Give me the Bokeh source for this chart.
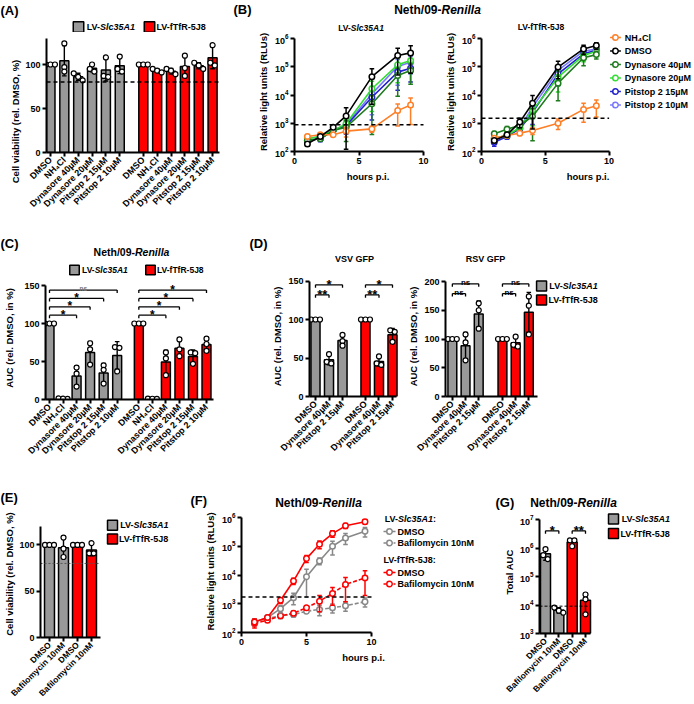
import math
import numpy as np
from bokeh.plotting import figure
from bokeh.models import Range1d, FixedTicker, Label
from bokeh.layouts import row, column
from bokeh.embed import file_html
from bokeh.resources import INLINE

S = 1.0
FONT = "Liberation Sans"
GRAY = "#999999"
RED = "#FF0000"

# ------------------------------------------------------------------ data
drug_labels = ["DMSO", "NH₄Cl", "Dynasore 40µM", "Dynasore 20µM", "Pitstop 2 15µM", "Pitstop 2 10µM"]
vsv_labels = ["DMSO", "Dynasore 40µM", "Pitstop 2 15µM"]
baf_labels = ["DMSO", "Bafilomycin 10nM"]

# (A) cell viability (rel. DMSO, %) - three replicates each
a_slc35a1 = [[100, 100, 100], [124, 97, 92], [90, 86, 82], [100, 95, 92], [108, 87, 86], [109, 95, 92]]
a_ftfr = [[100, 100, 100], [95, 93, 91], [95, 93, 89], [110, 96, 87], [102, 99, 95], [122, 102, 99]]
viability_cutoff = 80

# (B) Neth/09-Renilla kinetics (RLUs): mean and SD
b_hours = [1, 2, 3, 4, 6, 8, 9]
b1_nh4cl = [340, 390, 390, 525, 630, 2800, 4400]
b1_nh4cl_sd = [60, 50, 40, 200, 150, 2000, 3500]
b1_dmso = [186, 340, 720, 1820, 44700, 251000, 309000]
b1_dmso_sd = [30, 50, 120, 1700, 40000, 200000, 250000]
b1_dyn40 = [245, 282, 550, 724, 4900, 49000, 74000]
b1_dyn40_sd = [40, 40, 90, 500, 4500, 40000, 50000]
b1_dyn20 = [282, 339, 550, 955, 16600, 117000, 166000]
b1_dyn20_sd = [40, 50, 90, 400, 14000, 90000, 100000]
b1_pit15 = [245, 282, 550, 810, 8300, 64600, 89000]
b1_pit15_sd = [40, 60, 90, 400, 7000, 50000, 60000]
b1_pit10 = [282, 339, 575, 870, 11000, 102000, 145000]
b1_pit10_sd = [40, 50, 90, 400, 9000, 80000, 90000]
b1_cutoff = 880

b2_nh4cl = [295, 372, 447, 550, 1000, 3090, 4170]
b2_nh4cl_sd = [50, 40, 80, 150, 400, 2000, 2500]
b2_dmso = [245, 389, 1100, 5130, 97700, 427000, 562000]
b2_dmso_sd = [40, 60, 400, 4500, 60000, 150000, 150000]
b2_dyn40 = [427, 617, 832, 1740, 26300, 209000, 269000]
b2_dyn40_sd = [80, 150, 200, 1500, 20000, 100000, 80000]
b2_dyn20 = [295, 372, 692, 2820, 42700, 251000, 355000]
b2_dyn20_sd = [50, 60, 150, 2000, 30000, 100000, 100000]
b2_pit15 = [214, 339, 631, 2400, 56200, 288000, 380000]
b2_pit15_sd = [60, 60, 150, 1500, 35000, 100000, 100000]
b2_pit10 = [282, 372, 692, 3720, 74100, 355000, 427000]
b2_pit10_sd = [50, 60, 200, 2000, 40000, 100000, 100000]
b2_cutoff = 1500

# (C) AUC (rel. DMSO, in %)
c_slc35a1 = [[100, 100, 100], [1.5, 0.8, 1.2], [42, 34, 17], [74, 66, 46], [45, 39, 21], [69, 68, 37]]
c_ftfr = [[100, 100, 100], [1.2, 1.0, 0.9], [62, 54, 32], [79, 66, 57], [62, 61, 47], [80, 73, 64]]
c_sig_slc35a1 = [(2, "*", 111), (3, "*", 122), (4, "*", 133), (5, "ns", 144)]
c_sig_ftfr = [(2, "*", 111), (3, "*", 122), (4, "*", 133), (5, "*", 144)]

# (D) VSV GFP / RSV GFP AUC
d_vsv_slc35a1 = [[100, 100, 100], [55, 45, 43], [80, 72, 66]]
d_vsv_ftfr = [[100, 100, 100], [52, 43, 41], [86, 84, 71]]
d_rsv_slc35a1 = [[100, 100, 100], [108, 94, 63], [162, 150, 118]]
d_rsv_ftfr = [[100, 100, 100], [104, 90, 87], [174, 158, 108]]
d_vsv_sig = [(1, "**", 132), (2, "*", 145)]
d_rsv_sig = [(1, "ns", 179), (2, "ns", 196)]

# (E) cell viability with bafilomycin
e_slc35a1 = [[100, 100, 100], [108, 96, 87]]
e_ftfr = [[100, 100, 100], [102, 91, 91]]

# (F) kinetics with bafilomycin
f_hours = [1, 2, 3, 4, 5, 6, 7, 8, 9.5]
f_slc_dmso = [234, 331, 676, 1620, 8710, 30900, 100000, 195000, 331000]
f_slc_dmso_sd = [60, 50, 200, 700, 7000, 8000, 50000, 80000, 120000]
f_slc_baf = [234, 309, 380, 427, 550, 631, 724, 851, 1175]
f_slc_baf_sd = [60, 40, 80, 80, 80, 250, 250, 300, 400]
f_ftfr_dmso = [234, 331, 1320, 6170, 37200, 117000, 275000, 513000, 708000]
f_ftfr_dmso_sd = [60, 40, 300, 1500, 10000, 35000, 70000, 100000, 120000]
f_ftfr_baf = [204, 269, 380, 468, 724, 1230, 2290, 4680, 7940]
f_ftfr_baf_sd = [60, 40, 60, 80, 100, 700, 1400, 3500, 6000]
f_cutoff = 1700

# (G) total AUC
g_slc35a1 = [[910000, 560000, 410000], [8100, 6300, 5400]]
g_ftfr = [[1860000, 1860000, 1150000], [23400, 15800, 4700]]
g_cutoff = 9100
g_sig = [(0, 1, "*", 4.0e6), (2, 3, "**", 4.0e6)]

# ------------------------------------------------------------------ helpers
_W = {' ': 278, '(': 333, ')': 333, '*': 389, ',': 278, '-': 333, '.': 278, '/': 278, ':': 333,
      '%': 889, 'µ': 611, '₄': 556}
for _c in '0123456789':
    _W[_c] = 556
_W.update(dict(A=722, B=722, C=722, D=722, E=667, F=611, G=778, H=722, I=278, J=556, K=722, L=611,
               M=833, N=722, O=778, P=667, Q=778, R=722, S=667, T=611, U=722, V=667, W=944, X=667,
               Y=667, Z=611))
_W.update(dict(a=556, b=611, c=556, d=611, e=556, f=333, g=611, h=611, i=278, j=278, k=556, l=278,
               m=889, n=611, o=611, p=611, q=611, r=389, s=556, t=333, u=611, v=556, w=778, x=556,
               y=556, z=500))


def tw(text, size):
    return sum(_W.get(c, 556) for c in text) / 1000.0 * size


class Pan:
    def __init__(self, cell, frame, xm, ym, ylog=False):
        self.cell, self.frame, self.xm, self.ym, self.ylog = cell, frame, xm, ym, ylog

    def _l(self, v):
        return math.log10(v) if self.ylog else v

    def xv(self, px):
        (v0, p0), (v1, p1) = self.xm
        return v0 + (px - p0) * (v1 - v0) / (p1 - p0)

    def xpx(self, v):
        (v0, p0), (v1, p1) = self.xm
        return p0 + (v - v0) * (p1 - p0) / (v1 - v0)

    def yv(self, py):
        (v0, p0), (v1, p1) = self.ym
        a, b = self._l(v0), self._l(v1)
        r = a + (py - p0) * (b - a) / (p1 - p0)
        return 10 ** r if self.ylog else r

    def ypx(self, v):
        (v0, p0), (v1, p1) = self.ym
        a, b = self._l(v0), self._l(v1)
        return p0 + (self._l(v) - a) * (p1 - p0) / (b - a)

    def dx(self, px):
        return self.xv(self.xpx(0) + px) - self.xv(self.xpx(0))


def X(v):
    return int(round(v * S))


def make(pan, xticks, yticks, xbounds, ybounds, xlabels=None, ylabel=None, xlabel=None,
         tick_size=9, cat_size=9, lab_size=9.5, ylab_standoff=3, xlab_standoff=4):
    cx0, cy0, cx1, cy1 = pan.cell
    fx0, fy0, fx1, fy1 = pan.frame
    p = figure(width=X(cx1) - X(cx0), height=X(cy1) - X(cy0),
               x_range=Range1d(pan.xv(fx0), pan.xv(fx1)),
               y_range=Range1d(pan.yv(fy1), pan.yv(fy0)),
               y_axis_type="log" if pan.ylog else "linear",
               min_border_left=X(fx0) - X(cx0), min_border_right=X(cx1) - X(fx1),
               min_border_top=X(fy0) - X(cy0), min_border_bottom=X(cy1) - X(fy1),
               output_backend="svg", toolbar_location=None)
    p.outline_line_color = None
    p.xgrid.visible = False
    p.ygrid.visible = False
    p.border_fill_color = "white"
    p.background_fill_color = "white"
    p.xaxis.ticker = FixedTicker(ticks=xticks)
    p.yaxis.ticker = FixedTicker(ticks=yticks)
    p.xaxis.bounds = xbounds
    p.yaxis.bounds = ybounds
    for ax in p.axis:
        ax.axis_line_width = 2 * S
        ax.axis_line_color = "black"
        ax.major_tick_line_width = 2 * S
        ax.major_tick_line_color = "black"
        ax.major_tick_out = 4
        ax.major_tick_in = 0
        ax.minor_tick_line_color = None
        ax.major_label_text_font = FONT
        ax.major_label_text_font_style = "bold"
        ax.major_label_text_color = "black"
        ax.major_label_text_font_size = f"{tick_size * S:.2f}px"
        ax.major_label_standoff = 2
        ax.axis_label_text_font = FONT
        ax.axis_label_text_font_style = "bold"
        ax.axis_label_text_color = "black"
        ax.axis_label_text_font_size = f"{lab_size * S:.2f}px"
    p.yaxis.axis_label_standoff = ylab_standoff
    p.xaxis.axis_label_standoff = xlab_standoff
    if ylabel:
        p.yaxis.axis_label = ylabel
    if xlabel:
        p.xaxis.axis_label = xlabel
    if xlabels:
        p.xaxis.major_label_overrides = {int(k): v for k, v in zip(xticks, xlabels)}
        p.xaxis.major_label_orientation = math.pi / 4
        p.xaxis.major_label_text_font_size = f"{cat_size * S:.2f}px"
    return p


def strip(cell):
    """A text band (no axes), in page-pixel coordinates."""
    cx0, cy0, cx1, cy1 = cell
    pan = Pan(cell, cell, ((0, 0), (1, 1)), ((0, 0), (-1, 1)))
    p = figure(width=X(cx1) - X(cx0), height=X(cy1) - X(cy0),
               x_range=Range1d(cx0, cx1), y_range=Range1d(-cy1, -cy0),
               x_axis_location=None, y_axis_location=None,
               min_border_left=0, min_border_right=0, min_border_top=0, min_border_bottom=0,
               output_backend="svg", toolbar_location=None)
    p.outline_line_color = None
    p.grid.visible = False
    p.border_fill_color = "white"
    p.background_fill_color = "white"
    return p, pan


def txt(p, pan, px, py, text, size, style="bold", align="left", baseline="middle", color="black",
        angle=0.0):
    p.add_layout(Label(x=pan.xv(px), y=pan.yv(py), x_units="data", y_units="data", text=text,
                       text_font=FONT, text_font_size=f"{size * S:.2f}px", text_font_style=style,
                       text_align=align, text_baseline=baseline, text_color=color, angle=angle))


def rich(p, pan, px, py, parts, size, align="left"):
    """Mixed bold / bold-italic text: first part right-aligned at the first join."""
    total = sum(tw(t, size) for t, _ in parts)
    x = px - (total / 2 if align == "center" else total if align == "right" else 0)
    starts = []
    for t, _ in parts:
        starts.append(x)
        x += tw(t, size)
    if len(parts) == 1:
        txt(p, pan, starts[0], py, parts[0][0], size, style=parts[0][1])
        return
    txt(p, pan, starts[1], py, parts[0][0], size, style=parts[0][1], align="right")
    for (t, st), sx in zip(parts[1:], starts[1:]):
        txt(p, pan, sx, py, t, size, style=st)


def dot_offsets(pan, values, thr=4.0, step=4.5):
    pys = [pan.ypx(v) for v in values]
    order = sorted(range(len(values)), key=lambda i: pys[i])
    clusters = []
    for i in order:
        if clusters and abs(pys[i] - pys[clusters[-1][-1]]) < thr:
            clusters[-1].append(i)
        else:
            clusters.append([i])
    offs = [0.0] * len(values)
    for c in clusters:
        k = len(c)
        for j, i in enumerate(c):
            offs[i] = (j - (k - 1) / 2) * step
    return offs


def bars(p, pan, pos, reps, color, width, base=0.0):
    means = [float(np.mean(r)) for r in reps]
    sds = [float(np.std(r, ddof=1)) for r in reps]
    p.vbar(x=pos, top=means, bottom=base, width=width, fill_color=color, line_color="black",
           line_width=1.5 * S)
    cap = pan.dx(2.3)
    for x, m, s in zip(pos, means, sds):
        if s <= 1e-9:
            continue
        lo = max(m - s, base * 1.001 if base > 0 else m - s)
        hi = m + s
        p.segment([x], [lo], [x], [hi], line_color="black", line_width=1.4 * S)
        p.segment([x - cap, x - cap], [hi, lo], [x + cap, x + cap], [hi, lo],
                  line_color="black", line_width=1.4 * S)
    xs, ys = [], []
    for x, r in zip(pos, reps):
        for v, o in zip(r, dot_offsets(pan, r)):
            xs.append(x + pan.dx(o))
            ys.append(v)
    p.scatter(xs, ys, marker="circle", size=5 * S, fill_color="white", line_color="black",
              line_width=1.2 * S)


def bracket(p, pan, x0, x1, level, text, size, color="black"):
    py = pan.ypx(level)
    yt = pan.yv(py + 3)
    p.segment([x0, x0, x1], [yt, level, yt], [x0, x1, x1], [level, level, level],
              line_color="black", line_width=1.3 * S)
    xm = (x0 + x1) / 2
    if text.startswith("*"):
        base = py - 7.5 + 0.58 * size
    else:
        base = py - 3.5 + 0.27 * size
    txt(p, pan, pan.xpx(xm), base, text, size, align="center", baseline="alphabetic", color=color)


def series(p, pan, t, mean, sd, color, dash="solid", floor=1.0):
    t = np.asarray(t, float)
    m = np.asarray(mean, float)
    s = np.asarray(sd, float)
    lo = np.maximum(m - s, floor)
    hi = m + s
    cap = pan.dx(2.3)
    p.segment(t, lo, t, hi, line_color=color, line_width=1.5 * S)
    p.segment(t - cap, hi, t + cap, hi, line_color=color, line_width=1.5 * S)
    p.segment(t - cap, lo, t + cap, lo, line_color=color, line_width=1.5 * S)
    p.line(t, m, line_color=color, line_width=1.6 * S, line_dash=dash)
    p.scatter(t, m, marker="circle", size=5.5 * S, fill_color="white", line_color=color,
              line_width=1.5 * S)


def cutoff(p, pan, px0, px1, value, dash="4 3", width=1.5, color="black"):
    p.segment([pan.xv(px0)], [value], [pan.xv(px1)], [value], line_color=color,
              line_width=width * S, line_dash=dash)


def leg_square(p, pan, px, py, color, size=10):
    p.scatter([pan.xv(px)], [pan.yv(py)], marker="square", size=size * S, fill_color=color,
              line_color="black", line_width=1.5 * S)


def leg_line(p, pan, px0, px1, py, color, dash="solid"):
    y = pan.yv(py)
    p.line([pan.xv(px0), pan.xv(px1)], [y, y], line_color=color, line_width=1.6 * S, line_dash=dash)
    p.scatter([pan.xv((px0 + px1) / 2)], [y], marker="circle", size=5.5 * S, fill_color="white",
              line_color=color, line_width=1.5 * S)


def box(f):
    """Wrap a figure on its own so that neighbouring plot frames are not aligned."""
    return column(f, spacing=0)


SLC = [("LV-", "bold"), ("Slc35A1", "bold italic")]
TFR = [("LV-fTfR-5J8", "bold")]
TITLE = [("Neth/09-", "bold"), ("Renilla", "bold italic")]
LOG_TICKS_B = [1e2, 1e3, 1e4, 1e5, 1e6]

# ================================================================== row 1: (A) and (B)
s1, q1 = strip((0, 0, 694, 32))
txt(s1, q1, 0, 10, "(A)", 13)
leg_square(s1, q1, 78, 26.5, GRAY, 10.5)
rich(s1, q1, 85, 26.5, SLC, 9)
leg_square(s1, q1, 149, 26.5, RED, 10.5)
rich(s1, q1, 156, 26.5, TFR, 9)
txt(s1, q1, 233, 9, "(B)", 13)
txt(s1, q1, 441, 9, "Neth/09-", 12, align="right")
txt(s1, q1, 441, 9, "Renilla", 12, style="bold italic")
rich(s1, q1, 360, 27, SLC, 8.5, align="center")
rich(s1, q1, 541, 26.5, TFR, 8.5, align="center")

# y-axis title of (A) sits low in the original, so it gets its own narrow band
sAy, qAy = strip((0, 32, 22, 215))
txt(sAy, qAy, 15, 121, "Cell viability (rel. DMSO, %)", 9.5, align="center", angle=math.pi / 2)

pA = Pan((22, 32, 228, 215), (45, 32, 228, 152), ((0, 49), (117, 212)), ((0, 152), (100, 64)))
a_pos_slc = [10 * i for i in range(6)]
a_pos_tfr = [67 + 10 * i for i in range(6)]
fA = make(pA, a_pos_slc + a_pos_tfr, [0, 50, 100], (pA.xv(45), pA.xv(219)), (0, 130),
          xlabels=drug_labels * 2)
bars(fA, pA, a_pos_slc, a_slc35a1, GRAY, 6.5)
bars(fA, pA, a_pos_tfr, a_ftfr, RED, 6.5)
cutoff(fA, pA, 45, 219, viability_cutoff)

b_colors = ["#FF7F27", "#000000", "#1E7B1E", "#33DD33", "#2222CC", "#7878FF"]
b_names = ["NH₄Cl", "DMSO", "Dynasore 40µM", "Dynasore 20µM", "Pitstop 2 15µM", "Pitstop 2 10µM"]
b1_data = [(b1_nh4cl, b1_nh4cl_sd), (b1_dmso, b1_dmso_sd), (b1_dyn40, b1_dyn40_sd),
           (b1_dyn20, b1_dyn20_sd), (b1_pit15, b1_pit15_sd), (b1_pit10, b1_pit10_sd)]
b2_data = [(b2_nh4cl, b2_nh4cl_sd), (b2_dmso, b2_dmso_sd), (b2_dyn40, b2_dyn40_sd),
           (b2_dyn20, b2_dyn20_sd), (b2_pit15, b2_pit15_sd), (b2_pit10, b2_pit10_sd)]
draw_order = [5, 4, 3, 2, 0, 1]

pB1 = Pan((228, 32, 441, 215), (294, 32, 441, 151), ((0, 294), (10, 423)), ((1e2, 151), (1e6, 38)), True)
fB1 = make(pB1, [0, 5, 10], LOG_TICKS_B, (0, 10), (1e2, 1e6),
           ylabel="Relative light units (RLUs)", xlabel="hours p.i.", ylab_standoff=3)
for i in draw_order:
    series(fB1, pB1, b_hours, b1_data[i][0], b1_data[i][1], b_colors[i])
cutoff(fB1, pB1, 294, 423, b1_cutoff)

pB2 = Pan((441, 32, 694, 215), (477, 32, 694, 151), ((0, 477), (10, 607)), ((1e2, 151), (1e6, 38)), True)
fB2 = make(pB2, [0, 5, 10], LOG_TICKS_B, (0, 10), (1e2, 1e6),
           ylabel="Relative light units (RLUs)", xlabel="hours p.i.", ylab_standoff=3)
for i in draw_order:
    series(fB2, pB2, b_hours, b2_data[i][0], b2_data[i][1], b_colors[i])
cutoff(fB2, pB2, 477, 607, b2_cutoff)
for i, yy in enumerate([37, 50.5, 64, 77.5, 91, 104.5]):
    leg_line(fB2, pB2, 608, 619, yy, b_colors[i])
    txt(fB2, pB2, 623, yy, b_names[i], 9)

# ================================================================== row 2: (C) and (D)
s2, q2 = strip((0, 215, 694, 276))
txt(s2, q2, 0, 243, "(C)", 13)
rich(s2, q2, 131, 251, TITLE, 10.5, align="center")
leg_square(s2, q2, 74, 269.5, GRAY, 9.5)
rich(s2, q2, 80.5, 269.5, SLC, 8.5)
leg_square(s2, q2, 150, 269.5, RED, 9.5)
rich(s2, q2, 156.5, 269.5, TFR, 8.5)
txt(s2, q2, 249, 243, "(D)", 13)
txt(s2, q2, 354, 258, "VSV GFP", 9, align="center")
txt(s2, q2, 485, 258, "RSV GFP", 9, align="center")

pC = Pan((0, 276, 248, 462), (45, 276, 248, 399), ((0, 49), (116, 206)), ((0, 399), (100, 323)))
c_pos_slc = [10 * i for i in range(6)]
c_pos_tfr = [66 + 10 * i for i in range(6)]
fC = make(pC, c_pos_slc + c_pos_tfr, [0, 50, 100, 150], (pC.xv(45), pC.xv(213)), (0, 150),
          xlabels=drug_labels * 2, ylabel="AUC (rel. DMSO, in %)", ylab_standoff=6)
bars(fC, pC, c_pos_slc, c_slc35a1, GRAY, 6.6)
bars(fC, pC, c_pos_tfr, c_ftfr, RED, 6.6)
for idx, lab, lev in c_sig_slc35a1:
    if lab == "ns":
        bracket(fC, pC, c_pos_slc[0], c_pos_slc[idx], lev, lab, 6.5, color="#777777")
    else:
        bracket(fC, pC, c_pos_slc[0], c_pos_slc[idx], lev, lab, 12)
for idx, lab, lev in c_sig_ftfr:
    bracket(fC, pC, c_pos_tfr[0], c_pos_tfr[idx], lev, lab, 12)

pD1 = Pan((248, 276, 405, 462), (309, 276, 405, 396), ((0, 315), (57, 392)), ((0, 396), (100, 319)))
d1_pos_slc = [0, 10, 20]
d1_pos_tfr = [37, 47, 57]
fD1 = make(pD1, d1_pos_slc + d1_pos_tfr, [0, 50, 100, 150], (pD1.xv(309), pD1.xv(396)), (0, 150),
           xlabels=vsv_labels * 2, ylabel="AUC (rel. DMSO, in %)", ylab_standoff=2)
bars(fD1, pD1, d1_pos_slc, d_vsv_slc35a1, GRAY, 6.7)
bars(fD1, pD1, d1_pos_tfr, d_vsv_ftfr, RED, 6.7)
for idx, lab, lev in d_vsv_sig:
    bracket(fD1, pD1, d1_pos_slc[0], d1_pos_slc[idx], lev, lab, 13)
    bracket(fD1, pD1, d1_pos_tfr[0], d1_pos_tfr[idx], lev, lab, 13)

pD2 = Pan((405, 276, 694, 462), (440, 276, 694, 396), ((0, 447), (58, 525)), ((0, 396), (200, 281)))
d2_pos_slc = [0, 10, 20]
d2_pos_tfr = [38, 48, 58]
fD2 = make(pD2, d2_pos_slc + d2_pos_tfr, [0, 50, 100, 150, 200], (pD2.xv(440), pD2.xv(534)), (0, 200),
           xlabels=vsv_labels * 2, ylabel="AUC (rel. DMSO, in %)", ylab_standoff=2)
bars(fD2, pD2, d2_pos_slc, d_rsv_slc35a1, GRAY, 6.7)
bars(fD2, pD2, d2_pos_tfr, d_rsv_ftfr, RED, 6.7)
for idx, lab, lev in d_rsv_sig:
    bracket(fD2, pD2, d2_pos_slc[0], d2_pos_slc[idx], lev, lab, 8)
    bracket(fD2, pD2, d2_pos_tfr[0], d2_pos_tfr[idx], lev, lab, 8)
leg_square(fD2, pD2, 538, 285.5, GRAY, 10)
rich(fD2, pD2, 545, 285.5, SLC, 9)
leg_square(fD2, pD2, 538, 299.5, RED, 10)
rich(fD2, pD2, 545, 299.5, TFR, 9)

# ================================================================== row 3: (E), (F), (G)
s3, q3 = strip((0, 462, 694, 510))
txt(s3, q3, 0, 497, "(E)", 13)
txt(s3, q3, 190, 500, "(F)", 13)
rich(s3, q3, 318, 502, TITLE, 12, align="center")
txt(s3, q3, 495, 502, "(G)", 13)
rich(s3, q3, 573, 502, TITLE, 12, align="center")

pE = Pan((0, 510, 187, 704), (40, 510, 187, 639), ((0, 49), (30, 91)), ((0, 639), (100, 545)))
e_pos_slc = [0, 10]
e_pos_tfr = [20, 30]
fE = make(pE, e_pos_slc + e_pos_tfr, [0, 50, 100], (pE.xv(40), pE.xv(100)), (0, 120),
          xlabels=baf_labels * 2, ylabel="Cell viability (rel. DMSO, %)", ylab_standoff=1, cat_size=8.5)
bars(fE, pE, e_pos_slc, e_slc35a1, GRAY, 7.1)
bars(fE, pE, e_pos_tfr, e_ftfr, RED, 7.1)
cutoff(fE, pE, 40, 100, viability_cutoff, dash="2 2", width=1.0, color="#555555")
leg_square(fE, pE, 112, 525, GRAY, 10)
rich(fE, pE, 118.5, 525, SLC, 9)
leg_square(fE, pE, 112, 539, RED, 10)
rich(fE, pE, 118.5, 539, TFR, 9)

F_GRAY = "#888888"
pF = Pan((187, 510, 485, 704), (241, 510, 485, 632), ((0, 241), (10, 371)), ((1e2, 632), (1e6, 517)), True)
fF = make(pF, [0, 5, 10], LOG_TICKS_B, (0, 10), (1e2, 1e6),
          ylabel="Relative light units (RLUs)", xlabel="hours p.i.", ylab_standoff=3)
series(fF, pF, f_hours, f_slc_baf, f_slc_baf_sd, F_GRAY, dash="4 2")
series(fF, pF, f_hours, f_ftfr_baf, f_ftfr_baf_sd, RED, dash="4 2")
series(fF, pF, f_hours, f_slc_dmso, f_slc_dmso_sd, F_GRAY)
series(fF, pF, f_hours, f_ftfr_dmso, f_ftfr_dmso_sd, RED)
cutoff(fF, pF, 241, 371, f_cutoff)
rich(fF, pF, 383, 518, SLC + [(":", "bold")], 9)
leg_line(fF, pF, 383, 395, 531, F_GRAY)
txt(fF, pF, 397, 531, "DMSO", 9)
leg_line(fF, pF, 383, 395, 542.5, F_GRAY, dash="3 2")
txt(fF, pF, 397, 542.5, "Bafilomycin 10nM", 9)
txt(fF, pF, 383, 559, "LV-fTfR-5J8:", 9)
leg_line(fF, pF, 383, 395, 572, RED)
txt(fF, pF, 397, 572, "DMSO", 9)
leg_line(fF, pF, 383, 395, 583.5, RED, dash="3 2")
txt(fF, pF, 397, 583.5, "Bafilomycin 10nM", 9)

pG = Pan((485, 510, 694, 704), (539, 510, 694, 633), ((0, 545), (30, 585)), ((1e3, 633), (1e7, 519)), True)
g_pos_slc = [0, 10]
g_pos_tfr = [20, 30]
fG = make(pG, g_pos_slc + g_pos_tfr, [1e3, 1e4, 1e5, 1e6, 1e7], (pG.xv(539), pG.xv(590)), (1e3, 1e7),
          xlabels=baf_labels * 2, ylabel="Total AUC", ylab_standoff=2, cat_size=8.5)
bars(fG, pG, g_pos_slc, g_slc35a1, GRAY, 7.5, base=1e3)
bars(fG, pG, g_pos_tfr, g_ftfr, RED, 7.5, base=1e3)
cutoff(fG, pG, 539, 590, g_cutoff, dash="3 2", width=1.0)
g_all = g_pos_slc + g_pos_tfr
for i0, i1, lab, lev in g_sig:
    bracket(fG, pG, g_all[i0], g_all[i1], lev, lab, 13)
leg_square(fG, pG, 613, 518.5, GRAY, 10)
rich(fG, pG, 620, 518.5, SLC, 9)
leg_square(fG, pG, 613, 533, RED, 10)
rich(fG, pG, 620, 533, TFR, 9)

layout = column(
    box(s1), row(box(sAy), box(fA), box(fB1), box(fB2), spacing=0),
    box(s2), row(box(fC), box(fD1), box(fD2), spacing=0),
    box(s3), row(box(fE), box(fF), box(fG), spacing=0),
    spacing=0,
)

open("out.html", "w").write(file_html(layout, INLINE, title="Figure"))
